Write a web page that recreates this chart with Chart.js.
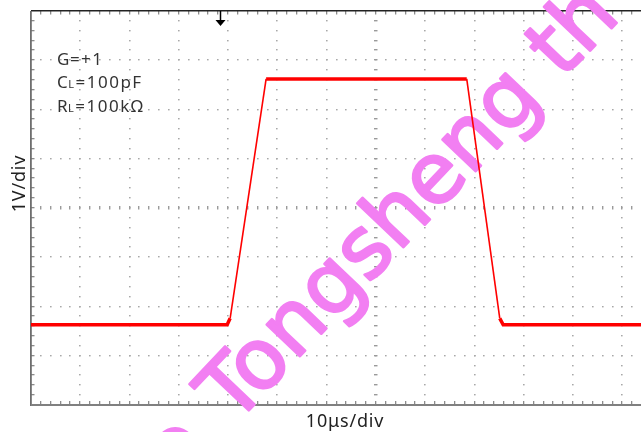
<!DOCTYPE html>
<html lang="pt-BR">
<head>
<meta charset="utf-8">
<title>Resposta ao degrau - G=+1</title>
<script src="https://cdn.jsdelivr.net/npm/chart.js@4.4.0/dist/chart.umd.min.js"></script>
<style>
  html, body { margin: 0; padding: 0; background: #fff; overflow: hidden; }
  #grafico { display: block; }
</style>
</head>
<body>
<canvas id="grafico" width="657" height="432"></canvas>
<script>
const tempoUs = [0, 39.8, 40.4, 47.7, 88.4, 95.1, 95.8, 127];
const tensaoV = [1.63, 1.63, 1.76, 6.62, 6.62, 1.76, 1.63, 1.63];
const gatilhoUs = 38.3; // seta do trigger no topo

// graticula: 10us/div e 1V/div, subdivisoes de 1/5
const divisoesX = [0, 10, 20, 30, 40, 50, 60, 70, 80, 90, 100, 110, 120];
const divisoesY = [0, 1, 2, 3, 4, 5, 6, 7, 8];
const centroX = 70;
const centroY = 4;
const passoX = 2;
const passoY = 0.2;

// textos da figura
const legendas = [['G', '', '=+1'], ['C', 'L', '=100pF'], ['R', 'L', '=100k\u03A9']];
const tituloX = '10\u03BCs/div';
const tituloY = '1V/div';
const marcaPrefixo = 'e';
const marcaDagua = 'Tongsheng th';

const pontos = tempoUs.map((t, i) => ({ x: t, y: tensaoV[i] }));

// desenha a graticula pontilhada e as bordas, usando as escalas do grafico
const graticula = {
  id: 'graticula',
  beforeDatasetsDraw(chart) {
    const { ctx, chartArea: a, scales: { x, y } } = chart;
    const nX = Math.floor(x.max / passoX);
    const nY = Math.round((y.max - y.min) / passoY);
    ctx.save();

    // pontos das linhas principais
    ctx.fillStyle = '#a8a8a8';
    divisoesX.forEach(v => {
      if (v === 0 || v === centroX) return;
      const px = Math.round(x.getPixelForValue(v));
      for (let k = 1; k < nY; k++) {
        const py = Math.round(y.getPixelForValue(k * passoY));
        ctx.fillRect(px - 1, py - 1, 1.6, 1.4);
      }
    });
    divisoesY.forEach(v => {
      if (v === 0 || v === 8 || v === centroY) return;
      const py = Math.round(y.getPixelForValue(v));
      for (let k = 1; k <= nX; k++) {
        const px = Math.round(x.getPixelForValue(k * passoX));
        ctx.fillRect(px - 1, py - 1, 1.6, 1.4);
      }
    });

    // eixos centrais com tracinhos
    ctx.fillStyle = '#9a9a9a';
    const cy = Math.round(y.getPixelForValue(centroY));
    for (let k = 1; k <= nX; k++) {
      const px = Math.round(x.getPixelForValue(k * passoX));
      ctx.fillRect(px - 1, cy - 2, 1.4, 3.5);
    }
    const cx = Math.round(x.getPixelForValue(centroX));
    for (let k = 1; k < nY; k++) {
      const py = Math.round(y.getPixelForValue(k * passoY));
      ctx.fillRect(cx - 2, py - 1, 3.5, 1.4);
    }

    // tracinhos nas bordas
    ctx.fillStyle = '#8c8c8c';
    for (let k = 1; k < nY; k++) {
      const py = Math.round(y.getPixelForValue(k * passoY));
      ctx.fillRect(a.left, py - 1, 3.5, 1.3);
    }
    for (let k = 1; k <= nX; k++) {
      const px = Math.round(x.getPixelForValue(k * passoX));
      ctx.fillRect(px - 1, a.top, 1.3, 3.5);
      ctx.fillRect(px - 1, a.bottom - 4, 1.3, 3.5);
    }

    // bordas
    ctx.fillStyle = '#222';
    ctx.fillRect(a.left, a.top - 1, a.right - a.left, 1.5);
    ctx.fillStyle = '#6e6e6e';
    ctx.fillRect(a.left - 1, a.top, 1.8, a.bottom - a.top + 1);
    ctx.fillStyle = '#808080';
    ctx.fillRect(a.left, a.bottom - 1, a.right - a.left, 2);

    // seta do trigger
    const gx = Math.round(x.getPixelForValue(gatilhoUs)) + 0.5;
    ctx.strokeStyle = '#000';
    ctx.lineWidth = 1.5;
    ctx.beginPath();
    ctx.moveTo(gx, a.top);
    ctx.lineTo(gx, a.top + 10);
    ctx.stroke();
    ctx.fillStyle = '#000';
    ctx.beginPath();
    ctx.moveTo(gx - 5, a.top + 9);
    ctx.lineTo(gx + 5, a.top + 9);
    ctx.lineTo(gx, a.top + 15);
    ctx.closePath();
    ctx.fill();

    // marca d'agua por baixo do traco
    ctx.translate(234, 426);
    ctx.rotate(-46.5 * Math.PI / 180);
    ctx.font = '84px "DejaVu Sans", sans-serif';
    ctx.fillStyle = '#f27ff2';
    ctx.strokeStyle = '#f27ff2';
    ctx.lineWidth = 2.5;
    ctx.lineJoin = 'round';
    ctx.textBaseline = 'alphabetic';
    ctx.fillText(marcaDagua, 0, 0);
    ctx.strokeText(marcaDagua, 0, 0);
    const recuo = ctx.measureText(marcaPrefixo).width + 32;
    ctx.fillText(marcaPrefixo, -recuo, 0);
    ctx.strokeText(marcaPrefixo, -recuo, 0);
    ctx.restore();
  },
  afterDraw(chart) {
    const { ctx } = chart;
    ctx.save();
    ctx.fillStyle = '#333';
    ctx.textBaseline = 'alphabetic';
    ctx.letterSpacing = '1.5px';
    // G, CL, RL com subscrito
    const baselines = [65, 88, 111.5];
    legendas.forEach((partes, i) => {
      let px = 57;
      ctx.font = '17px "Noto Sans", sans-serif';
      ctx.fillText(partes[0], px, baselines[i]);
      px += ctx.measureText(partes[0]).width - 1;
      if (partes[1]) {
        ctx.font = '11px "Noto Sans", sans-serif';
        ctx.fillText(partes[1], px, baselines[i]);
        px += ctx.measureText(partes[1]).width;
      }
      ctx.font = '17px "Noto Sans", sans-serif';
      ctx.fillText(partes[2], px, baselines[i]);
    });

    // titulos dos eixos
    ctx.fillStyle = '#222';
    ctx.letterSpacing = '0.8px';
    ctx.font = '18px "Noto Sans", sans-serif';
    ctx.textAlign = 'center';
    ctx.fillText(tituloX, 345, 427);
    ctx.translate(25, 183.5);
    ctx.rotate(-Math.PI / 2);
    ctx.fillText(tituloY, 0, 0);
    ctx.restore();
  }
};

const grafico = new Chart(document.getElementById('grafico'), {
  type: 'line',
  data: {
    datasets: [{
      data: pontos,
      borderColor: '#ff0000',
      borderWidth: 3.5,
      pointRadius: 0,
      tension: 0,
      fill: false,
      segment: {
        // rampas mais finas que os patamares
        borderWidth: c => Math.abs(c.p1.parsed.y - c.p0.parsed.y) > 0.5 ? 1.6 : 3.5
      }
    }]
  },
  options: {
    responsive: false,
    animation: false,
    devicePixelRatio: 1,
    layout: { padding: { left: 31, top: 11, right: 0, bottom: 27 } },
    plugins: { legend: { display: false }, tooltip: { enabled: false } },
    scales: {
      x: { type: 'linear', min: 0, max: 127, display: false },
      y: { type: 'linear', min: 0, max: 8, display: false }
    }
  },
  plugins: [graticula]
});
</script>
</body>
</html>
